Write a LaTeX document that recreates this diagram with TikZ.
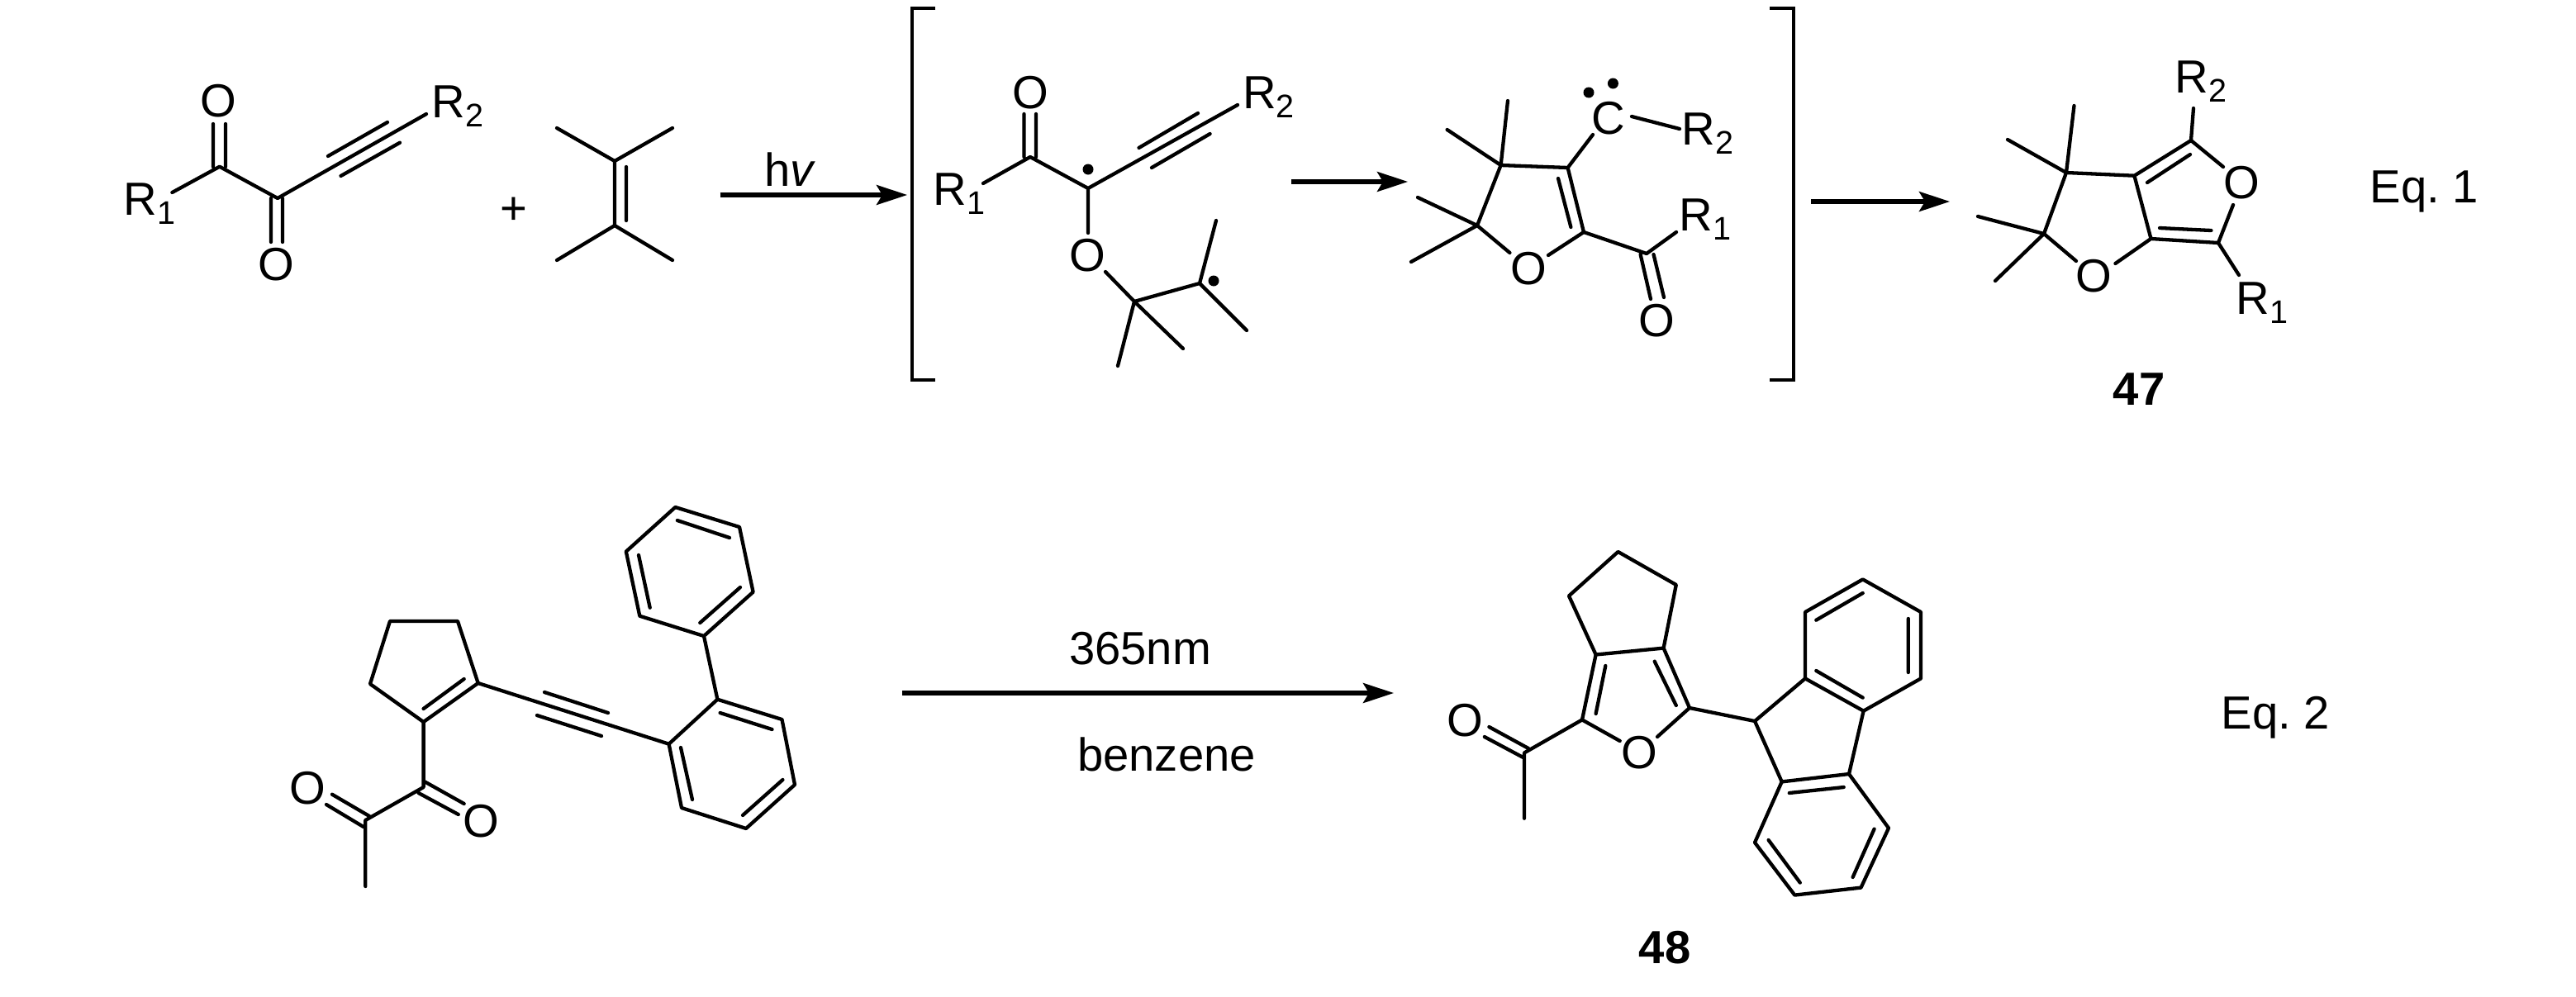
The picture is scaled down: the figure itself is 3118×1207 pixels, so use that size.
\documentclass[tikz,border=0pt]{standalone}
\usepackage{fontspec}
\setmainfont{Liberation Sans}
\usetikzlibrary{arrows.meta}
\newcommand{\Rsub}[1]{R\raisebox{-6.5pt}{\fontsize{22.5}{22.5}\selectfont #1}}
\newcommand{\pts}[1]{\foreach \n/\px/\py in {#1}{\coordinate (\n) at (\px,\py);}}
\tikzset{
  bd/.style={line width=0.086cm,line cap=round,line join=round},
  brk/.style={line width=0.09cm,line cap=butt,line join=miter},
  rxn/.style={line width=0.105cm,-{Stealth[length=0.74cm,width=0.48cm,inset=0.14cm]}},
  atom/.style={inner sep=0pt,font=\fontsize{32}{32}\selectfont},
  lab/.style={inner sep=0pt,anchor=base west,font=\fontsize{32}{32}\selectfont},
  cmpd/.style={inner sep=0pt,font=\fontsize{32}{32}\selectfont\bfseries},
  rad/.style={fill=black,draw=none}
}
\begin{document}
\begin{tikzpicture}[x=0.02cm,y=-0.02cm]
\useasboundingbox[fill=white] (0,0) rectangle (3118,1207);
% ---------- molecule A
\pts{a1/265.8/201.7,a2/336/240,a3/208.4/233,a4/516/138,
 a5/258/150,a6/258/202,a7/273/150,a8/273/202,
 a9/328/240,a10/328/293,a11/342/240,a12/342/293,
 a13/397/189,a14/469/148,a15/412.5/213,a16/484/172.7,
 e1/744/195,e2/744/273,e3/674/155,e4/814/155,e5/674/315,e6/814/315,e7/758/202,e8/758/267,
 r1s/871.7/236,r1e/1098/236}
\node[atom] (aOt) at (264.5,122) {O};
\node[atom] (aOb) at (334.7,320) {O};
\node[lab] (aR1) at (149.5,260) {\Rsub{1}};
\node[lab] (aR2) at (522.5,142) {\Rsub{2}};
\node[atom] (plus) at (621.7,255) {+};
\draw[bd] (a3)--(a1)--(a2)--(a4);
\draw[bd] (a5)--(a6) (a7)--(a8) (a9)--(a10) (a11)--(a12) (a13)--(a14) (a15)--(a16);
\draw[bd] (e3)--(e1)--(e4) (e1)--(e2) (e5)--(e2)--(e6) (e7)--(e8);
\draw[rxn] (r1s)--(r1e);
\node[lab] (hv) at (925,225) {h\textit{v}};
% ---------- bracket
\pts{k1/1132/10,k2/1104/10,k3/1104/460,k4/1132/460,k5/2142/10,k6/2171/10,k7/2171/460,k8/2142/460}
\draw[brk] (k1)--(k2)--(k3)--(k4);
\draw[brk] (k5)--(k6)--(k7)--(k8);
% ---------- molecule B
\pts{b1/1247/190,b2/1317/228,b3/1190/222,b4/1498/127,
 b5/1239.5/138,b6/1239.5/190,b7/1254/138,b8/1254/190,
 b9/1378.5/179,b10/1450/137,b11/1394/203,b12/1464.6/162,
 b13/1317/282,b14/1338/329,b15/1373/365,b16/1452/343,b17/1472/267,b18/1509/400,b19/1432/422,b20/1353/443,
 r2s/1563/220,r2e/1704/220}
\node[atom] (bOt) at (1247,112) {O};
\node[atom] (bO) at (1316,309) {O};
\node[lab] (bR1) at (1129.5,248) {\Rsub{1}};
\node[lab] (bR2) at (1504,131) {\Rsub{2}};
\draw[bd] (b3)--(b1)--(b2)--(b4) (b5)--(b6) (b7)--(b8) (b9)--(b10) (b11)--(b12);
\draw[bd] (b2)--(b13) (b14)--(b15)--(b16)--(b17) (b16)--(b18) (b15)--(b19) (b15)--(b20);
\fill[rad] (1317,205) circle[radius=6.5];
\fill[rad] (1469,340) circle[radius=6.5];
\draw[rxn] (r2s)--(r2e);
% ---------- molecule C
\pts{c1/1816.6/200,c2/1897.6/203,c3/1917/281,c4/1788/273,c5/1827.4/306,c6/1874/309,
 c7/1825/122,c8/1751.6/157,c9/1716/239,c10/1708/317,c11/1886/216,c12/1901.4/275,
 c13/1928/163,c14/1975/141,c15/2033/156,c16/1993/307,c17/2029/281,
 c18/1985.6/308,c19/1998/362,c20/2001.5/308,c21/2014/360,
 r3s/2192/244,r3e/2360/244}
\node[atom] (cC) at (1947,143) {C};
\node[atom] (cO) at (1850,325) {O};
\node[atom] (cOc) at (2005,388) {O};
\node[lab] (cR2) at (2035.6,175) {\Rsub{2}};
\node[lab] (cR1) at (2032.6,279) {\Rsub{1}};
\draw[bd] (c5)--(c4)--(c1)--(c2)--(c3)--(c6) (c1)--(c7) (c1)--(c8) (c4)--(c9) (c4)--(c10) (c11)--(c12);
\draw[bd] (c2)--(c13) (c14)--(c15) (c3)--(c16)--(c17) (c18)--(c19) (c20)--(c21);
\fill[rad] (1923,112) circle[radius=6.5];
\fill[rad] (1952.4,101) circle[radius=6.5];
\draw[rxn] (r3s)--(r3e);
% ---------- molecule D
\pts{d1/2501/209,d2/2583.4/212.7,d3/2652/170,d4/2685/294,d5/2603.5/289,d6/2474/283,
 d7/2691/202,d8/2703/248,d9/2513/316,d10/2560.4/319,
 d11/2510.5/128,d12/2430/169,d13/2394/262,d14/2415/340,
 d15/2599/221,d16/2651/187,d17/2614/276,d18/2676.4/279,d19/2655/131,d20/2710/333}
\node[atom] (dO1) at (2713.7,221) {O};
\node[atom] (dO2) at (2534.6,334) {O};
\node[lab] (dR2) at (2632.5,112) {\Rsub{2}};
\node[lab] (dR1) at (2706.5,380) {\Rsub{1}};
\node[cmpd] (n47) at (2589,471) {47};
\node[lab] (eq1) at (2868.5,245) {Eq.\ 1};
\draw[bd] (d9)--(d6)--(d1)--(d2)--(d3)--(d7) (d8)--(d4)--(d5)--(d10) (d2)--(d5);
\draw[bd] (d1)--(d11) (d1)--(d12) (d6)--(d13) (d6)--(d14) (d15)--(d16) (d17)--(d18) (d3)--(d19) (d4)--(d20);
% ---------- molecule E
\pts{f1/472/752,f2/554/752,f3/578.7/827,f4/512.6/874,f5/448/828,f6/561.7/822,f7/512.6/858,
 f8/809.6/900.7,f9/659/838,f10/736/863,f11/650/866,f12/728/891,
 g1/868.4/846.7,g2/946.5/871,g3/962/950,g4/903/1003,g5/825/978,
 g6/871.6/863,g7/934.5/883,g8/947.4/944,g9/899/987,g10/838/968,g11/824/905,
 h1/852/770,h2/911.6/716.7,h3/895/638,h4/817.4/614,h5/757.8/667.7,h6/774.3/745.7,
 h7/896/711,h8/847.3/754,h9/883/651,h10/819.8/630,h11/773/672,h12/786.7/735.7,
 i1/512.6/953,i2/442.3/993,i3/442.3/1073,i4/513.5/946,i5/561.7/973,i6/506.6/960,i7/554.8/986,
 i8/402/961.7,i9/447/988,i10/395/974,i11/440/1001,
 r4s/1092/839,r4e/1687/839}
\node[atom] (eO1) at (582,994) {O};
\node[atom] (eO2) at (372,954) {O};
\draw[bd] (f1)--(f2)--(f3)--(f4)--(f5)--cycle (f6)--(f7);
\draw[bd] (f3)--(f8) (f9)--(f10) (f11)--(f12);
\draw[bd] (f8)--(g1)--(g2)--(g3)--(g4)--(g5)--cycle (g6)--(g7) (g8)--(g9) (g10)--(g11);
\draw[bd] (g1)--(h1) (h1)--(h2)--(h3)--(h4)--(h5)--(h6)--cycle (h7)--(h8) (h9)--(h10) (h11)--(h12);
\draw[bd] (f4)--(i1)--(i2)--(i3) (i4)--(i5) (i6)--(i7) (i8)--(i9) (i10)--(i11);
\draw[rxn] (r4s)--(r4e);
\node[atom] (t365) at (1380,785) {365nm};
\node[atom] (tbz) at (1412,913) {benzene};
% ---------- molecule F
\pts{m1/1958.5/668,m2/2028.8/708,m3/2013.6/784.6,m4/1931.6/792.5,m5/1899/721.4,
 m6/2045/857,m7/1915/871.4,m8/2006/892,m9/1960.7/897,
 m10/2002.7/800.7,m11/2028.8/854,m12/1943.3/806,m13/1931.6/864,
 m14/1845/911.4,m15/1845/990.7,m16/1802.4/880,m17/1850/906,m18/1796.8/892,m19/1843.6/917,
 p1/2124/873,p2/2185/821.4,p3/2255.6/860.7,p4/2238/937,p5/2156.7/946.4,
 p6/2185/741,p7/2254.7/701.4,p8/2325/741,p9/2325/821.4,
 p10/2198.3/750.7,p11/2254.7/718,p12/2309.8/749,p13/2309.8/814,p14/2198.3/812,p15/2254.7/844.6,
 p16/2124/1020,p17/2172.3/1083.6,p18/2252.5/1074.6,p19/2286/1002.5,
 p20/2165.8/960,p21/2231.7/953,p22/2140.6/1017,p23/2178.8/1068.6,p24/2242.6/1062,p25/2268.6/1003.6}
\node[atom] (fO) at (1984.5,911.4) {O};
\node[atom] (fOc) at (1773,872) {O};
\node[cmpd] (n48) at (2015,1147) {48};
\node[lab] (eq2) at (2688.5,882) {Eq.\ 2};
\draw[bd] (m1)--(m2)--(m3)--(m4)--(m5)--cycle;
\draw[bd] (m3)--(m6)--(m8) (m4)--(m7)--(m9) (m10)--(m11) (m12)--(m13);
\draw[bd] (m7)--(m14)--(m15) (m16)--(m17) (m18)--(m19);
\draw[bd] (m6)--(p1) (p1)--(p2)--(p3)--(p4)--(p5)--cycle;
\draw[bd] (p2)--(p6)--(p7)--(p8)--(p9)--(p3) (p10)--(p11) (p12)--(p13) (p14)--(p15);
\draw[bd] (p5)--(p16)--(p17)--(p18)--(p19)--(p4) (p20)--(p21) (p22)--(p23) (p24)--(p25);
\end{tikzpicture}
\end{document}
